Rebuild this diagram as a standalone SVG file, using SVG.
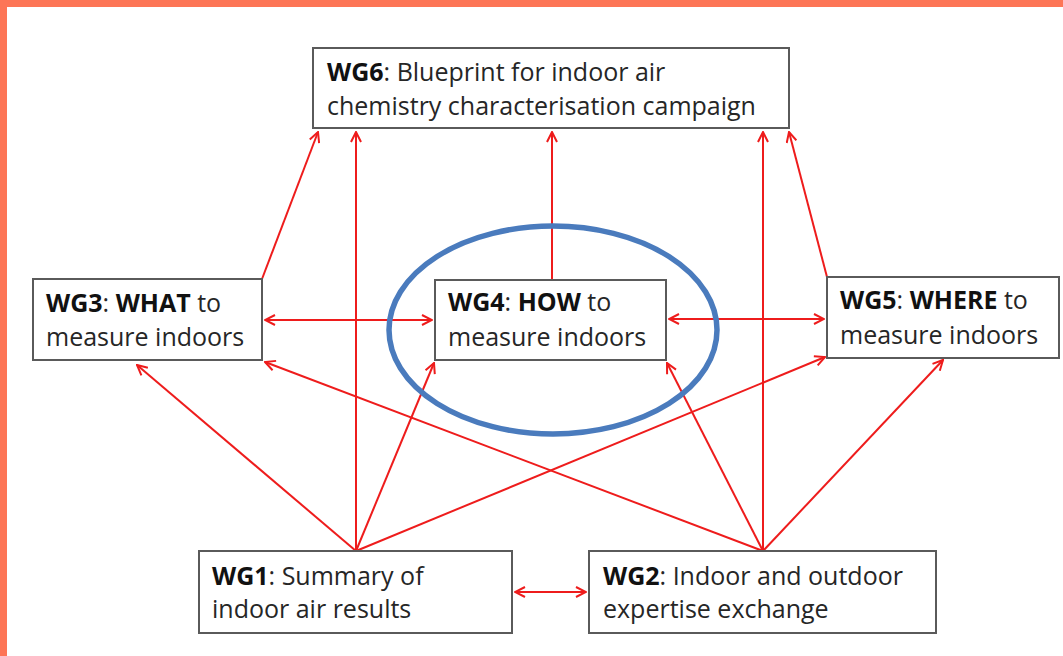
<svg xmlns="http://www.w3.org/2000/svg" width="1063" height="656" viewBox="0 0 1063 656">
<defs>
<marker id="ah" viewBox="0 0 12 12" refX="11" refY="6" markerWidth="12" markerHeight="12" markerUnits="userSpaceOnUse" orient="auto-start-reverse">
<path d="M1,1 L11,6 L1,11" fill="none" stroke="#ee1c1c" stroke-width="2"/>
</marker>
<style>
.box{fill:#fff;stroke:#5a5a5a;stroke-width:2}
.t{font-family:"Open Sans","Liberation Sans",Arial,sans-serif;font-size:25px;fill:#262626}
.b{font-weight:bold;fill:#111}
.c{stroke:#ee1c1c;stroke-width:2;fill:none}
.a{marker-end:url(#ah)}
.d{marker-start:url(#ah);marker-end:url(#ah)}
</style>
</defs>
<rect x="0" y="0" width="1063" height="656" fill="#fff"/>
<rect x="0" y="0" width="1063" height="7" fill="#fd7556"/>
<rect x="0" y="0" width="7" height="656" fill="#fd7556"/>
<g id="connectors">
<line class="c a" x1="262" y1="279" x2="318" y2="132"/>
<line class="c a" x1="356" y1="551" x2="356" y2="132"/>
<line class="c a" x1="552" y1="280" x2="552" y2="132"/>
<line class="c a" x1="763" y1="551" x2="763" y2="132"/>
<line class="c a" x1="827" y1="277" x2="789" y2="132"/>
<line class="c d" x1="265" y1="320" x2="432" y2="320"/>
<line class="c d" x1="669" y1="319" x2="824" y2="319"/>
<line class="c a" x1="356" y1="551" x2="137" y2="365"/>
<line class="c a" x1="356" y1="551" x2="434" y2="363"/>
<line class="c a" x1="356" y1="551" x2="825" y2="357"/>
<line class="c a" x1="763" y1="551" x2="265" y2="362"/>
<line class="c a" x1="763" y1="551" x2="667" y2="363"/>
<line class="c a" x1="763" y1="551" x2="943" y2="360"/>
<line class="c d" x1="515" y1="592" x2="586" y2="592"/>
</g>
<g id="WG6">
<rect class="box" x="313" y="48" width="476" height="80"/>
<text class="t" x="327" y="81"><tspan class="b">WG6</tspan>: Blueprint for indoor air</text>
<text class="t" x="327" y="115">chemistry characterisation campaign</text>
</g>
<g id="WG3">
<rect class="box" x="33" y="279" width="229" height="81"/>
<text class="t" x="46" y="312"><tspan class="b">WG3</tspan>: <tspan class="b">WHAT</tspan> to</text>
<text class="t" x="46" y="346">measure indoors</text>
</g>
<g id="WG4">
<rect class="box" x="435" y="280" width="231" height="80"/>
<text class="t" x="448" y="311"><tspan class="b">WG4</tspan>: <tspan class="b">HOW</tspan> to</text>
<text class="t" x="448" y="346">measure indoors</text>
</g>
<g id="WG5">
<rect class="box" x="827" y="277" width="232" height="81"/>
<text class="t" x="840" y="309"><tspan class="b">WG5</tspan>: <tspan class="b">WHERE</tspan> to</text>
<text class="t" x="840" y="344">measure indoors</text>
</g>
<g id="WG1">
<rect class="box" x="199" y="551" width="313" height="82"/>
<text class="t" x="212" y="585"><tspan class="b">WG1</tspan>: Summary of</text>
<text class="t" x="212" y="618">indoor air results</text>
</g>
<g id="WG2">
<rect class="box" x="589" y="551" width="347" height="82"/>
<text class="t" x="603" y="585"><tspan class="b">WG2</tspan>: Indoor and outdoor</text>
<text class="t" x="603" y="618">expertise exchange</text>
</g>
<g id="highlight">
<ellipse cx="553" cy="330" rx="164" ry="104" fill="none" stroke="#4a7bbd" stroke-width="5.5"/>
</g>
</svg>
